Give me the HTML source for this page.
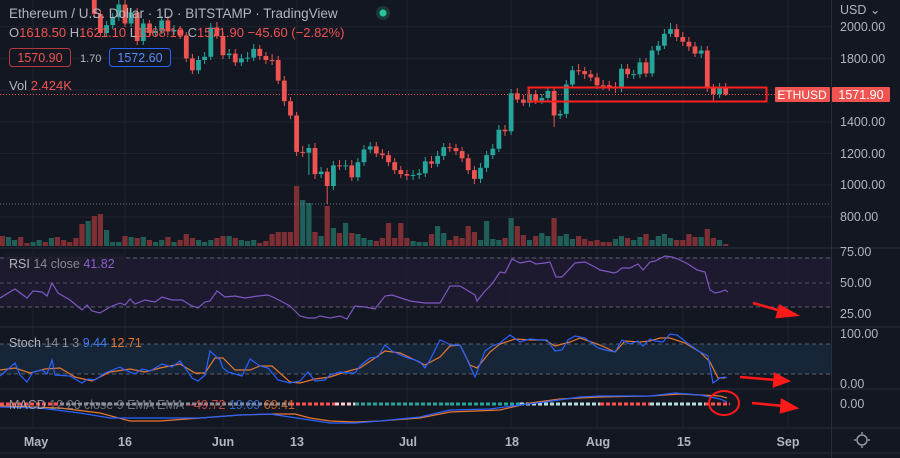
<!DOCTYPE html>
<html><head><meta charset="utf-8"><style>
html,body{margin:0;padding:0;background:#131722;width:900px;height:458px;overflow:hidden}
svg{display:block}
text{font-family:"Liberation Sans",sans-serif}
.R{fill:#ef5350}.G{fill:#26a69a}.r{fill:#7e2f33}.g{fill:#1f5f58}
</style></head><body>
<svg width="900" height="458" xmlns="http://www.w3.org/2000/svg">
<rect width="900" height="458" fill="#131722"/>
<g stroke="#1f2330">
<line x1="0" x2="831" y1="26.7" y2="26.7"/><line x1="0" x2="831" y1="58.4" y2="58.4"/><line x1="0" x2="831" y1="90" y2="90"/><line x1="0" x2="831" y1="122" y2="122"/><line x1="0" x2="831" y1="153.5" y2="153.5"/><line x1="0" x2="831" y1="185" y2="185"/><line x1="0" x2="831" y1="217" y2="217"/>
<line x1="33" x2="33" y1="0" y2="428"/><line x1="125" x2="125" y1="0" y2="428"/><line x1="223" x2="223" y1="0" y2="428"/><line x1="297" x2="297" y1="0" y2="428"/><line x1="407" x2="407" y1="0" y2="428"/><line x1="511" x2="511" y1="0" y2="428"/><line x1="597" x2="597" y1="0" y2="428"/><line x1="683" x2="683" y1="0" y2="428"/><line x1="788" x2="788" y1="0" y2="428"/>
</g>
<rect x="0" y="257" width="831" height="50" fill="#1f1b31" opacity="0.9"/>
<rect x="0" y="344" width="831" height="30" fill="#162638"/>
<!-- volume -->
<g>
<rect class="r" x="-0.25" y="236" width="5.2" height="10"/><rect class="g" x="5.9" y="237" width="5.2" height="9"/><rect class="g" x="12" y="240" width="5.2" height="6"/><rect class="r" x="18.1" y="237" width="5.2" height="9"/><rect class="r" x="24.3" y="243" width="5.2" height="3"/>
<rect class="g" x="30.4" y="242" width="5.2" height="4"/><rect class="g" x="36.5" y="240" width="5.2" height="6"/><rect class="r" x="42.7" y="242" width="5.2" height="4"/><rect class="g" x="48.8" y="238" width="5.2" height="8"/><rect class="r" x="54.9" y="237" width="5.2" height="9"/><rect class="r" x="61.1" y="240" width="5.2" height="6"/><rect class="r" x="67.2" y="242" width="5.2" height="4"/>
<rect class="r" x="73.3" y="238" width="5.2" height="8"/><rect class="r" x="79.4" y="224" width="5.2" height="22"/><rect class="g" x="85.6" y="221" width="5.2" height="25"/><rect class="r" x="91.7" y="216" width="5.2" height="30"/><rect class="r" x="97.8" y="214" width="5.2" height="32"/><rect class="g" x="104" y="230" width="5.2" height="16"/>
<rect class="g" x="110.1" y="242" width="5.2" height="4"/><rect class="g" x="116.2" y="242" width="5.2" height="4"/><rect class="r" x="122.4" y="236" width="5.2" height="10"/><rect class="g" x="128.5" y="237" width="5.2" height="9"/><rect class="r" x="134.6" y="238" width="5.2" height="8"/><rect class="g" x="140.7" y="237" width="5.2" height="9"/><rect class="r" x="146.9" y="240" width="5.2" height="6"/><rect class="g" x="153" y="242" width="5.2" height="4"/>
<rect class="g" x="159.1" y="240" width="5.2" height="6"/><rect class="r" x="165.3" y="237" width="5.2" height="9"/><rect class="g" x="171.4" y="242" width="5.2" height="4"/><rect class="r" x="177.5" y="240" width="5.2" height="6"/><rect class="r" x="183.7" y="234" width="5.2" height="12"/><rect class="r" x="189.8" y="238" width="5.2" height="8"/><rect class="g" x="195.9" y="240" width="5.2" height="6"/><rect class="g" x="202" y="242" width="5.2" height="4"/><rect class="g" x="208.2" y="240" width="5.2" height="6"/><rect class="r" x="214.3" y="238" width="5.2" height="8"/>
<rect class="r" x="220.4" y="236" width="5.2" height="10"/><rect class="g" x="226.6" y="236" width="5.2" height="10"/><rect class="r" x="232.7" y="238" width="5.2" height="8"/><rect class="g" x="238.8" y="240" width="5.2" height="6"/><rect class="g" x="245" y="241" width="5.2" height="5"/><rect class="g" x="251.1" y="240" width="5.2" height="6"/><rect class="r" x="257.2" y="243" width="5.2" height="3"/><rect class="r" x="263.3" y="241" width="5.2" height="5"/><rect class="r" x="269.5" y="234" width="5.2" height="12"/><rect class="r" x="275.6" y="232" width="5.2" height="14"/>
<rect class="r" x="281.7" y="232" width="5.2" height="14"/><rect class="r" x="287.9" y="232" width="5.2" height="14"/><rect class="r" x="294" y="186" width="5.2" height="60"/><rect class="g" x="300.1" y="200" width="5.2" height="46"/><rect class="g" x="306.3" y="203" width="5.2" height="43"/><rect class="r" x="312.4" y="232" width="5.2" height="14"/><rect class="g" x="318.5" y="236" width="5.2" height="10"/><rect class="r" x="324.6" y="206" width="5.2" height="40"/>
<rect class="g" x="330.8" y="228" width="5.2" height="18"/><rect class="r" x="336.9" y="233" width="5.2" height="13"/><rect class="g" x="343" y="223" width="5.2" height="23"/><rect class="r" x="349.2" y="233" width="5.2" height="13"/><rect class="g" x="355.3" y="234" width="5.2" height="12"/><rect class="g" x="361.4" y="238" width="5.2" height="8"/><rect class="g" x="367.6" y="240" width="5.2" height="6"/><rect class="r" x="373.7" y="241" width="5.2" height="5"/><rect class="r" x="379.8" y="238" width="5.2" height="8"/><rect class="r" x="385.9" y="223" width="5.2" height="23"/><rect class="r" x="392.1" y="238" width="5.2" height="8"/><rect class="r" x="398.2" y="223" width="5.2" height="23"/>
<rect class="r" x="404.3" y="238" width="5.2" height="8"/><rect class="g" x="410.5" y="241" width="5.2" height="5"/><rect class="g" x="416.6" y="242" width="5.2" height="4"/><rect class="g" x="422.7" y="242" width="5.2" height="4"/><rect class="r" x="428.9" y="234" width="5.2" height="12"/><rect class="g" x="435" y="226" width="5.2" height="20"/><rect class="g" x="441.1" y="233" width="5.2" height="13"/><rect class="r" x="447.2" y="240" width="5.2" height="6"/><rect class="r" x="453.4" y="236" width="5.2" height="10"/><rect class="r" x="459.5" y="238" width="5.2" height="8"/>
<rect class="r" x="465.6" y="226" width="5.2" height="20"/><rect class="r" x="471.8" y="232" width="5.2" height="14"/><rect class="g" x="477.9" y="240" width="5.2" height="6"/><rect class="g" x="484" y="221" width="5.2" height="25"/><rect class="g" x="490.2" y="239" width="5.2" height="7"/><rect class="g" x="496.3" y="240" width="5.2" height="6"/><rect class="r" x="502.4" y="238" width="5.2" height="8"/><rect class="g" x="508.5" y="218" width="5.2" height="28"/><rect class="r" x="514.7" y="226" width="5.2" height="20"/><rect class="r" x="520.8" y="235" width="5.2" height="11"/>
<rect class="g" x="526.9" y="240" width="5.2" height="6"/><rect class="r" x="533.1" y="236" width="5.2" height="10"/><rect class="g" x="539.2" y="233" width="5.2" height="13"/><rect class="g" x="545.3" y="236" width="5.2" height="10"/><rect class="r" x="551.5" y="218" width="5.2" height="28"/><rect class="g" x="557.6" y="236" width="5.2" height="10"/><rect class="g" x="563.7" y="234" width="5.2" height="12"/><rect class="g" x="569.8" y="239" width="5.2" height="7"/><rect class="r" x="576" y="236" width="5.2" height="10"/><rect class="r" x="582.1" y="239" width="5.2" height="7"/>
<rect class="r" x="588.2" y="241" width="5.2" height="5"/><rect class="r" x="594.4" y="240" width="5.2" height="6"/><rect class="r" x="600.5" y="242" width="5.2" height="4"/><rect class="r" x="606.6" y="242" width="5.2" height="4"/><rect class="g" x="612.8" y="239" width="5.2" height="7"/><rect class="g" x="618.9" y="236" width="5.2" height="10"/><rect class="r" x="625" y="238" width="5.2" height="8"/><rect class="g" x="631.1" y="240" width="5.2" height="6"/><rect class="g" x="637.3" y="237" width="5.2" height="9"/><rect class="r" x="643.4" y="234" width="5.2" height="12"/>
<rect class="g" x="649.5" y="240" width="5.2" height="6"/><rect class="g" x="655.7" y="236" width="5.2" height="10"/><rect class="g" x="661.8" y="234" width="5.2" height="12"/><rect class="g" x="667.9" y="238" width="5.2" height="8"/><rect class="r" x="674.1" y="240" width="5.2" height="6"/><rect class="r" x="680.2" y="240" width="5.2" height="6"/><rect class="r" x="686.3" y="234" width="5.2" height="12"/><rect class="r" x="692.4" y="237" width="5.2" height="9"/><rect class="g" x="698.6" y="237" width="5.2" height="9"/><rect class="r" x="704.7" y="229" width="5.2" height="17"/><rect class="r" x="710.8" y="238" width="5.2" height="8"/><rect class="g" x="717" y="240" width="5.2" height="6"/><rect class="r" x="723.1" y="244" width="5.2" height="2"/>
</g>
<!-- wicks -->
<path stroke="#ef5350" stroke-width="1" fill="none" d="M82,-60V-7M94.3,-31V18M100.4,10V37M125,0V27M137.2,8V45M149.5,20V37M167.9,16V35M180.1,26V39M186.3,32V62M192.4,54V74M216.9,22V39M223,32V59M235.3,49V66M259.8,45V60M265.9,52V64M272.1,54V65M278.2,56V84M284.3,76V106M290.5,97V119M296.6,112V156M302.7,146V157M315,143V179M327.2,168V204M339.5,160V170M351.8,160V181M376.3,142V157M382.4,149V159M388.5,151V166M394.7,158V174M400.8,166V178M406.9,170V180M431.5,156V168M449.8,143V152M456,144V155M462.1,147V162M468.2,154V174M474.4,166V184M505,125V136M517.3,88V103M523.4,95V106M535.7,90V104M554.1,87V127M578.6,64V75M584.7,67V79M590.8,70V81M597,73V89M603.1,80V90M609.2,81V91M615.4,82V93M627.6,64V78M646,58V77M676.7,24V41M682.8,32V46M688.9,37V51M695,42V57M707.3,46V92M713.4,84V101M725.7,83V96"/>
<path stroke="#26a69a" stroke-width="1" fill="none" d="M88.2,-31V-7M106.6,21V37M112.7,13V29M118.8,0V21M131.1,8V27M143.3,19V45M155.6,26V37M161.7,16V34M174,25V35M198.5,56V74M204.6,52V64M210.8,23V60M229.2,49V59M241.4,54V66M247.6,52V62M253.7,44V61M308.9,144V175M321.1,167V178M333.4,161V190M345.6,160V170M357.9,158V181M364,145V166M370.2,142V153M413.1,170V180M419.2,169V179M425.3,157V177M437.6,151V167M443.7,143V160M480.5,163V183M486.6,151V172M492.8,144V159M498.9,125V152M511.1,89V135M529.5,90V107M541.8,94V104M547.9,87V102M560.2,110V119M566.3,80V118M572.4,66V88M621.5,64V92M633.7,70V79M639.9,58V78M652.1,46V77M658.3,41V55M664.4,29V49M670.5,23V37M701.2,46V58M719.6,83V98"/>
<!-- bodies -->
<g>
<rect class="R" x="79.6" y="-55.7" width="4.8" height="44.4"/><rect class="G" x="85.8" y="-27.2" width="4.8" height="15.9"/><rect class="R" x="91.9" y="-27.2" width="4.8" height="41.2"/><rect class="R" x="98" y="14" width="4.8" height="19"/><rect class="G" x="104.2" y="25.1" width="4.8" height="7.9"/><rect class="G" x="110.3" y="17.2" width="4.8" height="7.9"/><rect class="G" x="116.4" y="4.5" width="4.8" height="12.7"/><rect class="R" x="122.6" y="4.5" width="4.8" height="19"/><rect class="G" x="128.7" y="12.4" width="4.8" height="11.1"/><rect class="R" x="134.8" y="12.4" width="4.8" height="28.6"/>
<rect class="G" x="140.9" y="23.5" width="4.8" height="17.5"/><rect class="R" x="147.1" y="23.5" width="4.8" height="9.5"/><rect class="G" x="153.2" y="30.7" width="4.8" height="2.3"/><rect class="G" x="159.3" y="20.4" width="4.8" height="10.3"/><rect class="R" x="165.5" y="20.4" width="4.8" height="11.1"/><rect class="G" x="171.6" y="29.9" width="4.8" height="1.6"/><rect class="R" x="177.7" y="29.9" width="4.8" height="5.5"/><rect class="R" x="183.9" y="35.4" width="4.8" height="23"/><rect class="R" x="190" y="58.4" width="4.8" height="11.9"/><rect class="G" x="196.1" y="60" width="4.8" height="10.3"/>
<rect class="G" x="202.2" y="56.8" width="4.8" height="3.2"/><rect class="G" x="208.4" y="27.5" width="4.8" height="29.3"/><rect class="R" x="214.5" y="27.5" width="4.8" height="8.7"/><rect class="R" x="220.6" y="36.2" width="4.8" height="19"/><rect class="G" x="226.8" y="53.6" width="4.8" height="1.6"/><rect class="R" x="232.9" y="53.6" width="4.8" height="8.8"/><rect class="G" x="239" y="58.4" width="4.8" height="4"/><rect class="G" x="245.2" y="57.6" width="4.8" height="1"/><rect class="G" x="251.3" y="48.9" width="4.8" height="8.7"/><rect class="R" x="257.4" y="48.9" width="4.8" height="7.1"/>
<rect class="R" x="263.5" y="56" width="4.8" height="4"/><rect class="R" x="269.7" y="60" width="4.8" height="1"/><rect class="R" x="275.8" y="60" width="4.8" height="20.6"/><rect class="R" x="281.9" y="80.6" width="4.8" height="20.6"/><rect class="R" x="288.1" y="101.2" width="4.8" height="14.3"/><rect class="R" x="294.2" y="115.5" width="4.8" height="36.4"/><rect class="R" x="300.3" y="151.9" width="4.8" height="1"/><rect class="G" x="306.5" y="148" width="4.8" height="4.7"/><rect class="R" x="312.6" y="148" width="4.8" height="26.1"/><rect class="G" x="318.7" y="171.7" width="4.8" height="2.4"/>
<rect class="R" x="324.8" y="171.7" width="4.8" height="14.3"/><rect class="G" x="331" y="165.4" width="4.8" height="20.6"/><rect class="R" x="337.1" y="165.4" width="4.8" height="1"/><rect class="G" x="343.2" y="165.4" width="4.8" height="1"/><rect class="R" x="349.4" y="165.4" width="4.8" height="11.9"/><rect class="G" x="355.5" y="162.2" width="4.8" height="15.1"/><rect class="G" x="361.6" y="149.5" width="4.8" height="12.7"/><rect class="G" x="367.8" y="146.4" width="4.8" height="3.1"/><rect class="R" x="373.9" y="146.4" width="4.8" height="7.1"/><rect class="R" x="380" y="153.5" width="4.8" height="1.6"/>
<rect class="R" x="386.1" y="155.1" width="4.8" height="7.1"/><rect class="R" x="392.3" y="162.2" width="4.8" height="7.9"/><rect class="R" x="398.4" y="170.1" width="4.8" height="4"/><rect class="R" x="404.5" y="174.1" width="4.8" height="1.6"/><rect class="G" x="410.7" y="174.9" width="4.8" height="1"/><rect class="G" x="416.8" y="173.3" width="4.8" height="1.6"/><rect class="G" x="422.9" y="161.4" width="4.8" height="11.9"/><rect class="R" x="429.1" y="161.4" width="4.8" height="2.4"/><rect class="G" x="435.2" y="155.9" width="4.8" height="7.9"/><rect class="G" x="441.3" y="147.2" width="4.8" height="8.7"/>
<rect class="R" x="447.4" y="147.2" width="4.8" height="1"/><rect class="R" x="453.6" y="148" width="4.8" height="3.1"/><rect class="R" x="459.7" y="151.1" width="4.8" height="7.2"/><rect class="R" x="465.8" y="158.3" width="4.8" height="11.8"/><rect class="R" x="472" y="170.1" width="4.8" height="8.8"/><rect class="G" x="478.1" y="167.8" width="4.8" height="11.1"/><rect class="G" x="484.2" y="155.1" width="4.8" height="12.7"/><rect class="G" x="490.4" y="148.7" width="4.8" height="6.4"/><rect class="G" x="496.5" y="129.7" width="4.8" height="19"/><rect class="R" x="502.6" y="129.7" width="4.8" height="1.6"/>
<rect class="G" x="508.7" y="93.3" width="4.8" height="38"/><rect class="R" x="514.9" y="93.3" width="4.8" height="6.3"/><rect class="R" x="521" y="99.6" width="4.8" height="3.2"/><rect class="G" x="527.1" y="94.1" width="4.8" height="8.7"/><rect class="R" x="533.3" y="94.1" width="4.8" height="6.3"/><rect class="G" x="539.4" y="98" width="4.8" height="2.4"/><rect class="G" x="545.5" y="90.9" width="4.8" height="7.1"/><rect class="R" x="551.7" y="90.9" width="4.8" height="24.6"/><rect class="G" x="557.8" y="113.9" width="4.8" height="1.6"/><rect class="G" x="563.9" y="84.5" width="4.8" height="29.4"/>
<rect class="G" x="570" y="70.3" width="4.8" height="14.2"/><rect class="R" x="576.2" y="70.3" width="4.8" height="1"/><rect class="R" x="582.3" y="71.1" width="4.8" height="3.1"/><rect class="R" x="588.4" y="74.2" width="4.8" height="3.2"/><rect class="R" x="594.6" y="77.4" width="4.8" height="7.9"/><rect class="R" x="600.7" y="85.3" width="4.8" height="1"/><rect class="R" x="606.8" y="85.3" width="4.8" height="1.6"/><rect class="R" x="613" y="86.9" width="4.8" height="1.6"/><rect class="G" x="619.1" y="68.7" width="4.8" height="19.8"/><rect class="R" x="625.2" y="68.7" width="4.8" height="5.5"/>
<rect class="G" x="631.3" y="74.2" width="4.8" height="1"/><rect class="G" x="637.5" y="62.4" width="4.8" height="11.8"/><rect class="R" x="643.6" y="62.4" width="4.8" height="11"/><rect class="G" x="649.7" y="50.5" width="4.8" height="22.9"/><rect class="G" x="655.9" y="45.7" width="4.8" height="4.8"/><rect class="G" x="662" y="33.8" width="4.8" height="11.9"/><rect class="G" x="668.1" y="29.1" width="4.8" height="4.7"/><rect class="R" x="674.3" y="29.1" width="4.8" height="7.9"/><rect class="R" x="680.4" y="37" width="4.8" height="4.8"/><rect class="R" x="686.5" y="41.8" width="4.8" height="4.7"/>
<rect class="R" x="692.6" y="46.5" width="4.8" height="7.1"/><rect class="G" x="698.8" y="50.5" width="4.8" height="3.1"/><rect class="R" x="704.9" y="50.5" width="4.8" height="38"/><rect class="R" x="711" y="88.5" width="4.8" height="5.6"/><rect class="G" x="717.2" y="87.7" width="4.8" height="6.4"/><rect class="R" x="723.3" y="87.2" width="4.8" height="7.3"/>
</g>
<!-- pane separators & guides -->
<line x1="0" y1="94.5" x2="831" y2="94.5" stroke="#f05350" stroke-width="1" stroke-dasharray="1,2"/>
<line x1="0" y1="204" x2="831" y2="204" stroke="#9598a1" stroke-width="1" stroke-dasharray="1,2" opacity="0.7"/>
<rect x="528.5" y="87.5" width="238" height="14" fill="none" stroke="#ff2020" stroke-width="2"/>
<rect x="0" y="247" width="831" height="2" fill="#131722"/>
<line x1="0" y1="248" x2="900" y2="248" stroke="#2a2e39"/>
<line x1="0" y1="327" x2="900" y2="327" stroke="#2a2e39"/>
<line x1="0" y1="389" x2="900" y2="389" stroke="#2a2e39"/>
<line x1="0" y1="428" x2="900" y2="428" stroke="#2a2e39"/>
<line x1="0" y1="453" x2="900" y2="453" stroke="#2a2e39"/>
<line x1="831.5" y1="0" x2="831.5" y2="458" stroke="#2a2e39"/>
<line x1="0" y1="258" x2="831" y2="258" stroke="#787b86" stroke-dasharray="4,3" opacity="0.7"/>
<line x1="0" y1="283" x2="831" y2="283" stroke="#787b86" stroke-dasharray="4,3" opacity="0.5"/>
<line x1="0" y1="307" x2="831" y2="307" stroke="#787b86" stroke-dasharray="4,3" opacity="0.7"/>
<line x1="0" y1="344" x2="831" y2="344" stroke="#787b86" stroke-dasharray="4,3" opacity="0.7"/>
<line x1="0" y1="374" x2="831" y2="374" stroke="#787b86" stroke-dasharray="4,3" opacity="0.7"/>
<!-- RSI -->
<polyline fill="none" stroke="#7e57c2" stroke-width="1.2" points="0,298 15,289 27,298 33,291 42,292 47,296 52,283 58,293 70,300 82,310 87,305 92,311 100,313 110,307 120,303 125,305 130,299 135,304 145,300 155,302 162,297 172,300 182,300 192,306 198,308 205,302 210,301 217,291 225,297 235,296 245,298 258,296 268,295 275,298 290,306 300,316 308,318 315,318 320,316 330,318 340,316 347,319 355,306 365,307 375,309 385,296 392,295 410,301 425,303 440,303 450,286 460,286 475,295 477,301 485,291 492,284 500,272 505,273 512,259 520,263 530,261 536,264 545,263 550,262 556,277 562,277 575,263 585,262 595,267 600,270 605,271 614,273 617,272 622,268 630,268 638,264 643,270 650,262 655,261 665,256 672,257 678,259 688,264 697,270 705,272 710,290 715,293 720,292 725,290 728,292"/>
<!-- Stoch -->
<polyline fill="none" stroke="#e8772e" stroke-width="1.2" points="0,370 15,368 30,373 45,369 60,368 75,377 92,381 110,372 130,369 145,372 160,368 180,364 195,373 205,373 215,358 223,358 235,370 250,370 260,366 272,366 290,382 300,383 315,379 330,377 345,372 360,368 372,360 385,351 400,353 415,360 425,365 440,357 450,346 460,345 470,365 477,368 490,352 500,344 515,339 530,340 545,340 555,346 570,342 580,338 600,345 615,352 625,341 640,342 650,341 660,338 670,338 685,343 700,352 710,362 718,378 725,378"/>
<polyline fill="none" stroke="#2962ff" stroke-width="1.2" points="0,376 7,370 15,363 20,375 27,382 33,372 42,370 47,374 52,360 55,375 70,376 82,383 88,379 95,380 105,373 120,367 125,370 135,374 142,369 150,371 162,364 172,367 180,361 185,368 192,378 198,381 205,375 210,351 220,360 223,368 228,372 235,374 242,376 250,359 260,366 268,368 278,380 290,383 300,381 308,372 315,381 325,380 330,375 340,372 350,373 355,373 360,366 370,358 378,357 385,345 392,351 405,357 415,360 420,362 425,368 430,360 440,340 447,343 450,345 460,345 465,355 475,377 485,351 492,346 500,343 510,335 520,342 530,339 540,340 547,340 555,351 562,350 568,340 575,336 585,338 598,348 605,350 615,352 622,340 630,344 638,341 643,346 650,339 655,341 663,342 670,334 677,335 690,345 700,352 708,356 713,383 720,378 725,377 727,378"/>
<!-- MACD histogram -->
<g stroke-width="3" stroke-dasharray="4,2">
<line x1="0" x2="60" y1="404" y2="404" stroke="#ff5252"/>
<line x1="60" x2="290" y1="404" y2="404" stroke="#8c8f98"/>
<line x1="290" x2="335" y1="404" y2="404" stroke="#ff5252"/>
<line x1="335" x2="355" y1="404" y2="404" stroke="#ffcdd2"/>
<line x1="355" x2="450" y1="404" y2="404" stroke="#26a69a"/>
<line x1="450" x2="520" y1="404" y2="404" stroke="#26a69a"/>
<line x1="520" x2="600" y1="404" y2="404" stroke="#b2dfdb"/>
<line x1="600" x2="650" y1="404" y2="404" stroke="#ff5252"/>
<line x1="650" x2="705" y1="404" y2="404" stroke="#b2dfdb"/>
<line x1="705" x2="730" y1="404" y2="404" stroke="#ff5252"/>
</g>
<polyline fill="none" stroke="#e8772e" stroke-width="1.2" points="0,406 60,408 100,413 130,421 160,421 200,418 240,415 275,414 295,414 310,418 330,421 355,422 380,421 420,418 450,412 500,410 530,403 560,399 600,397 650,396 680,394 700,395 720,396 727,398"/>
<polyline fill="none" stroke="#2962ff" stroke-width="1.2" points="0,407 40,408 80,413 110,418 150,418 200,418 240,415 270,414 290,417 310,420 330,423 355,423 380,421 420,417 450,410 490,409 520,405 545,402 580,397 600,396 650,396 675,393 700,395 720,399 727,402"/>
<!-- header -->
<text x="9" y="18" font-size="13.5" fill="#b2b5be">Ethereum / U.S. Dollar · 1D · BITSTAMP · TradingView</text>
<circle cx="383" cy="13" r="7" fill="#1b3a34"/><circle cx="383" cy="13" r="3.5" fill="#26c6a0"/>
<text x="9" y="37" font-size="13" fill="#b2b5be">O<tspan fill="#f05350">1618.50</tspan> H<tspan fill="#f05350">1621.10</tspan> L<tspan fill="#f05350">1568.10</tspan> C<tspan fill="#f05350">1571.90 −45.60 (−2.82%)</tspan></text>
<rect x="9.5" y="48.5" width="61" height="18" rx="3" fill="#131722" stroke="#b23a3e"/>
<text x="40" y="62" font-size="12.5" fill="#f05350" text-anchor="middle">1570.90</text>
<text x="80" y="62" font-size="11" fill="#b2b5be">1.70</text>
<rect x="109.5" y="48.5" width="61" height="18" rx="3" fill="#131722" stroke="#2962ff"/>
<text x="140" y="62" font-size="12.5" fill="#5b8cff" text-anchor="middle">1572.60</text>
<text x="9" y="90" font-size="13" fill="#b2b5be">Vol <tspan fill="#f05350">2.424K</tspan></text>
<rect x="5" y="253" width="120" height="20" fill="#1b1c2a" opacity="0.8"/>
<text x="9" y="268" font-size="12.5" fill="#b2b5be">RSI <tspan fill="#878a94">14 close</tspan> <tspan fill="#8e5fd0">41.82</tspan></text>
<text x="9" y="347" font-size="12.5" fill="#b2b5be">Stoch <tspan fill="#878a94">14 1 3</tspan> <tspan fill="#3d7cf0">9.44</tspan> <tspan fill="#e8772e">12.71</tspan></text>
<text x="9" y="409" font-size="12.5" fill="#b2b5be" opacity="0.8">MACD <tspan fill="#878a94">12 26 close 9 EMA EMA</tspan> <tspan fill="#f05350">−49.72</tspan> <tspan fill="#3d7cf0">19.69</tspan> <tspan fill="#e8772e">69.41</tspan></text>
<!-- right axis -->
<g font-size="12.5" fill="#b2b5be">
<text x="840" y="14">USD ⌄</text>
<text x="840" y="31">2000.00</text>
<text x="840" y="63">1800.00</text>
<text x="840" y="126">1400.00</text>
<text x="840" y="158">1200.00</text>
<text x="840" y="189">1000.00</text>
<text x="840" y="221">800.00</text>
<text x="840" y="256">75.00</text>
<text x="840" y="287">50.00</text>
<text x="840" y="318">25.00</text>
<text x="840" y="338">100.00</text>
<text x="840" y="388">0.00</text>
<text x="840" y="408">0.00</text>
</g>
<rect x="775" y="87" width="55" height="15" rx="1" fill="#f05350"/>
<text x="802" y="99" font-size="12" fill="#fff" text-anchor="middle">ETHUSD</text>
<rect x="832" y="87" width="58" height="15" rx="1" fill="#f05350"/>
<text x="861" y="99" font-size="12.5" fill="#fff" text-anchor="middle">1571.90</text>
<!-- time axis -->
<g font-size="12.5" fill="#b2b5be" font-weight="bold" text-anchor="middle">
<text x="36" y="446">May</text><text x="125" y="446">16</text><text x="223" y="446">Jun</text>
<text x="297" y="446">13</text><text x="408" y="446">Jul</text><text x="512" y="446">18</text>
<text x="598" y="446">Aug</text><text x="684" y="446">15</text><text x="788" y="446">Sep</text>
</g>
<circle cx="862" cy="440" r="5" fill="none" stroke="#9598a1" stroke-width="1.5"/>
<g stroke="#9598a1" stroke-width="1.5"><line x1="862" y1="432" x2="862" y2="434"/><line x1="862" y1="446" x2="862" y2="448"/><line x1="854" y1="440" x2="856" y2="440"/><line x1="868" y1="440" x2="870" y2="440"/></g>
<!-- annotations -->
<ellipse cx="724" cy="403" rx="15" ry="12" fill="none" stroke="#ff1a1a" stroke-width="2"/>
<g stroke="#ff1a1a" stroke-width="2.5" fill="#ff1a1a">
<line x1="753" y1="303" x2="785" y2="312"/><polygon points="796,315 780,306 777,317"/>
<line x1="740" y1="377" x2="776" y2="380"/><polygon points="788,381 775,374 774,386"/>
<line x1="752" y1="403" x2="784" y2="406"/><polygon points="796,408 782,400 781,412"/>
</g>
</svg>
</body></html>
